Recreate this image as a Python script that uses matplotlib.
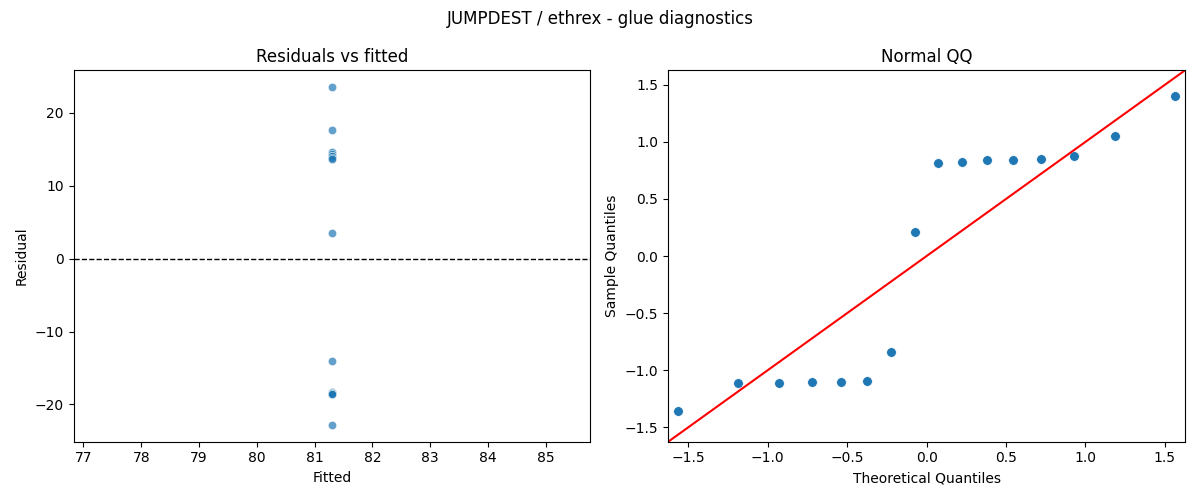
import matplotlib
matplotlib.use("Agg")
import matplotlib.pyplot as plt
import numpy as np
import seaborn as sns
from statistics import NormalDist

# residuals (fitted value is the same for all of them)
RESIDUALS = [23.5, 17.6, 14.6, 14.3, 14.1, 14.1, 13.8, 13.6, 3.5,
             -14.1, -18.3, -18.5, -18.5, -18.6, -18.6, -22.8]
FITTED = [81.3, 81.3, 81.3, 81.3, 81.3, 81.3, 81.3, 81.3, 81.3,
          81.3, 81.3, 81.3, 81.3, 81.3, 81.3, 81.3]

TITLE = "JUMPDEST / ethrex - glue diagnostics"

fig, (ax1, ax2) = plt.subplots(1, 2, figsize=(12, 5), dpi=100)

### Residuals vs fitted ###
sns.scatterplot(x=FITTED, y=RESIDUALS, alpha=0.7, ax=ax1)
ax1.axhline(0, color="black", linestyle="--", linewidth=1)
ax1.set_title("Residuals vs fitted")
ax1.set_xlabel("Fitted")
ax1.set_ylabel("Residual")

### Normal QQ ###
res = np.sort(np.array(RESIDUALS))
n = len(res)
sample_q = (res - res.mean()) / res.std()
nd = NormalDist()
theo_q = np.array([nd.inv_cdf(i / (n + 1)) for i in range(1, n + 1)])

sns.scatterplot(x=theo_q, y=sample_q, s=50, ax=ax2)
lim = 1.627
ax2.plot([-lim, lim], [-lim, lim], color="red", linewidth=1.5)
ax2.set_xlim(-lim, lim)
ax2.set_ylim(-lim, lim)
ax2.set_title("Normal QQ")
ax2.set_xlabel("Theoretical Quantiles")
ax2.set_ylabel("Sample Quantiles")

fig.suptitle(TITLE)
fig.tight_layout()
fig.savefig("out.png")
